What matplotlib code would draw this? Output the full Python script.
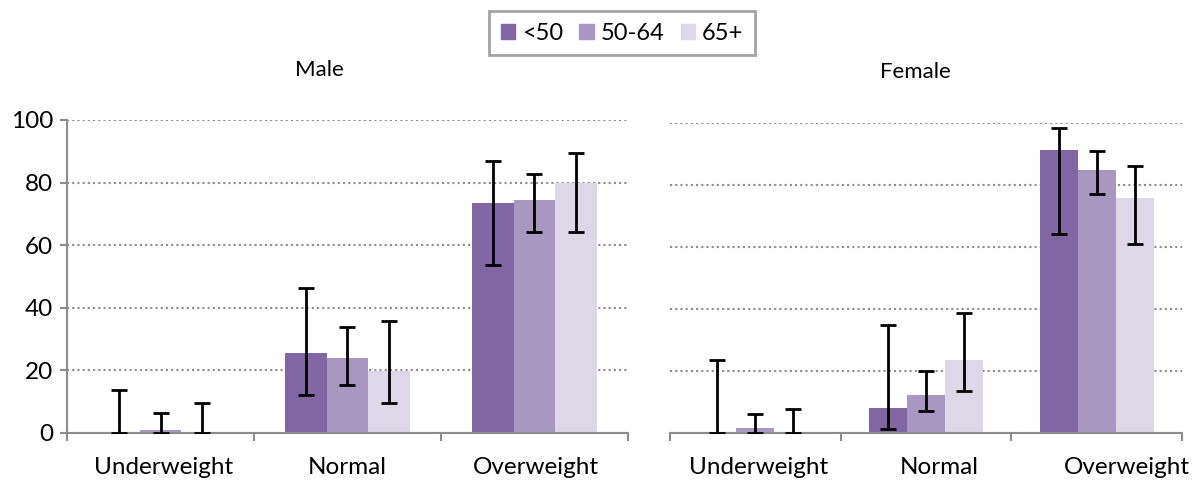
import numpy as np
import matplotlib
matplotlib.use('Agg')
import matplotlib.pyplot as plt
import matplotlib.transforms as mtransforms
from matplotlib.patches import Patch

plt.rcParams['font.family'] = ['Lato', 'DejaVu Sans']

#categories and groups
cats = ['Underweight', 'Normal', 'Overweight']
ages = ['<50', '50-64', '65+']
colors = ['#8066A2', '#A898C1', '#DED7E8']

#male values (percent) and error bar ends
male = [[0.3, 25.5, 73.4],
        [1.1, 23.9, 74.3],
        [0.3, 19.8, 80.0]]
male_lo = [[0.0, 12.1, 53.7],
           [0.0, 15.3, 64.1],
           [0.0, 9.6, 64.1]]
male_hi = [[13.8, 46.3, 86.8],
           [6.4, 34.0, 82.9],
           [9.6, 35.7, 89.4]]

#female values
female = [[0.0, 8.0, 91.4],
          [1.6, 12.2, 84.8],
          [0.3, 23.6, 75.9]]
female_lo = [[0.0, 1.3, 64.1],
             [0.0, 7.0, 77.0],
             [0.0, 13.4, 60.8]]
female_hi = [[23.6, 34.7, 98.3],
             [6.1, 20.1, 91.0],
             [7.7, 38.8, 86.1]]

fig = plt.figure(figsize=(11.97, 4.8), dpi=100)
ax1 = fig.add_axes([0.056, 0.098, 0.4686, 0.652])
ax2 = fig.add_axes([0.5597, 0.098, 0.4278, 0.646])

axcol = '#8C8C8C'
w = 0.223
x = np.arange(len(cats))

def draw(ax, vals, lo, hi, left_axis, shifts):
    for i in range(3):
        v = np.array(vals[i])
        pos = x + (i - 1) * w
        ax.bar(pos, v, width=w, color=colors[i], zorder=2)
        yerr = [v - np.array(lo[i]), np.array(hi[i]) - v]
        ax.errorbar(pos, v, yerr=yerr, fmt='none', ecolor='black',
                    elinewidth=2, capsize=6, capthick=2, zorder=3)
    ax.set_xlim(-0.5, 2.5)
    ax.set_ylim(0, 100)
    ax.set_yticks([0, 20, 40, 60, 80, 100])
    ax.yaxis.grid(True, linestyle=(0, (1, 1.5)), color='#8C8C8C', lw=1.5, zorder=0)
    ax.set_axisbelow(True)
    ax.set_xticks([-0.5, 0.5, 1.5, 2.5])
    ax.set_xticklabels([])
    ax.set_xticks(x, minor=True)
    ax.set_xticklabels(cats, minor=True, fontsize=17.5)
    ax.tick_params(axis='x', which='minor', length=0, pad=17)
    ax.tick_params(axis='x', which='major', length=6, width=1.5, color=axcol)
    #nudge the category labels sideways (pixels)
    for lab, dx in zip(ax.xaxis.get_minorticklabels(), shifts):
        off = mtransforms.ScaledTranslation(dx / 100, 0, fig.dpi_scale_trans)
        lab.set_transform(lab.get_transform() + off)
    for s in ['top', 'right']:
        ax.spines[s].set_visible(False)
    ax.spines['bottom'].set_color(axcol)
    ax.spines['bottom'].set_linewidth(1.5)
    if left_axis:
        ax.spines['left'].set_color(axcol)
        ax.spines['left'].set_linewidth(1.5)
        ax.tick_params(axis='y', length=5, width=1.5, color=axcol, labelsize=17.5, pad=5)
    else:
        ax.spines['left'].set_visible(False)
        ax.tick_params(axis='y', length=0, labelleft=False)

draw(ax1, male, male_lo, male_hi, True, [3, 0, 1])
draw(ax2, female, female_lo, female_hi, False, [3, 13, 30])

fig.text(319 / 1197, 1 - 70 / 480, 'Male', ha='center', va='center', fontsize=16)
fig.text(915 / 1197, 1 - 72 / 480, 'Female', ha='center', va='center', fontsize=16)

handles = [Patch(color=c) for c in colors]
leg = fig.legend(handles, ages, loc='center', bbox_to_anchor=(622 / 1197, 1 - 33 / 480),
                 ncol=3, fontsize=17, frameon=True, fancybox=False,
                 handlelength=0.6, handleheight=0.6, handletextpad=0.3,
                 columnspacing=0.7, borderpad=0.5)
leg.get_frame().set_edgecolor('#8C8C8C')
leg.get_frame().set_linewidth(2)

fig.savefig('out.png', dpi=100)
